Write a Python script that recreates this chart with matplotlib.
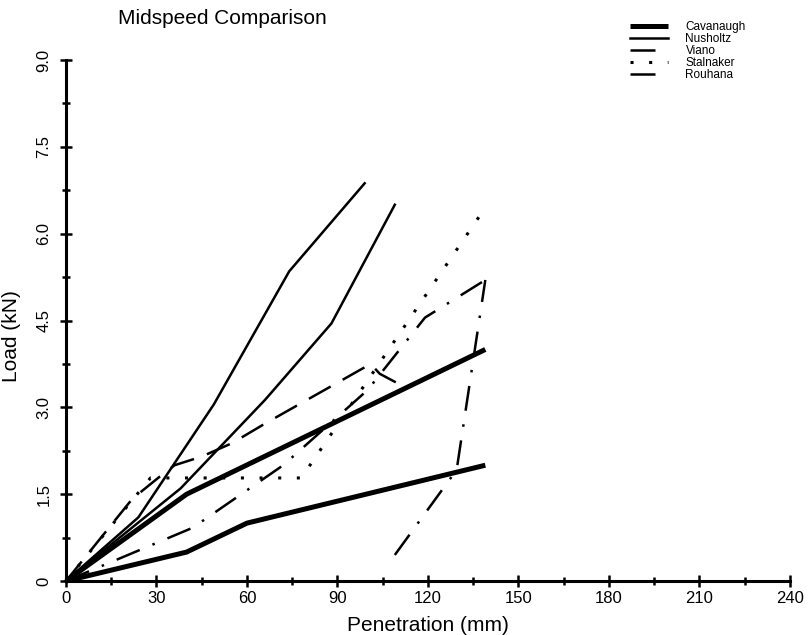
import matplotlib
matplotlib.use("Agg")
import matplotlib.pyplot as plt
from matplotlib.ticker import MultipleLocator

# Data (penetration mm, load kN)
cav_upper_x = [0, 40, 139]
cav_upper_y = [0, 1.5, 4.0]
cav_lower_x = [0, 40, 60, 139]
cav_lower_y = [0, 0.5, 1.0, 2.0]

nus_a_x = [0, 24, 49, 74, 99]
nus_a_y = [0, 1.1, 3.05, 5.35, 6.87]
nus_b_x = [0, 38, 66, 88, 109]
nus_b_y = [0, 1.6, 3.13, 4.45, 6.5]

viano_x = [0, 22, 31, 36, 45, 55, 66, 101, 104, 113]
viano_y = [0, 1.42, 1.8, 2.0, 2.15, 2.38, 2.72, 3.75, 3.58, 3.33]

stal_x = [0, 28, 78, 139]
stal_y = [0, 1.78, 1.78, 6.45]

rou_upper_x = [0, 42, 72, 100, 119, 139]
rou_upper_y = [0, 0.92, 2.0, 3.3, 4.55, 5.2]
rou_lower_x = [109, 129.5, 139]
rou_lower_y = [0.45, 1.92, 5.2]

plt.rcParams['font.family'] = ['Liberation Sans', 'DejaVu Sans']


def main():
    fig = plt.figure(figsize=(8.12, 6.35), dpi=100)
    ax = fig.add_axes([66 / 812, 54 / 635, 724 / 812, 521 / 635])

    # Cavanaugh - thick solid
    cav, = ax.plot(cav_upper_x, cav_upper_y, color='black', lw=3.6,
                   solid_capstyle='butt', clip_on=False, label='Cavanaugh')
    ax.plot(cav_lower_x, cav_lower_y, color='black', lw=3.6,
            solid_capstyle='butt', clip_on=False)

    # Nusholtz - thinner solid
    nus, = ax.plot(nus_a_x, nus_a_y, color='black', lw=1.8, clip_on=False,
                   label='Nusholtz')
    ax.plot(nus_b_x, nus_b_y, color='black', lw=1.8, clip_on=False)

    # Viano - long dashes
    via, = ax.plot(viano_x, viano_y, color='black', lw=1.8,
                   linestyle=(0, (10, 5.5)), clip_on=False, label='Viano')

    # Stalnaker - dotted
    sta, = ax.plot(stal_x, stal_y, color='black', lw=2.2,
                   linestyle=(0, (1, 5.1)), clip_on=False, label='Stalnaker')

    # Rouhana - dash dot
    rou, = ax.plot(rou_upper_x, rou_upper_y, color='black', lw=1.8,
                   linestyle=(0, (10, 5.5, 1, 5.5)), clip_on=False,
                   label='Rouhana')
    ax.plot(rou_lower_x, rou_lower_y, color='black', lw=1.8,
            linestyle=(0, (10, 5.5, 1, 5.5)), clip_on=False)

    ax.set_xlim(0, 240)
    ax.set_ylim(0, 9)
    ax.xaxis.set_major_locator(MultipleLocator(30))
    ax.xaxis.set_minor_locator(MultipleLocator(15))
    ax.yaxis.set_minor_locator(MultipleLocator(0.75))
    ax.set_yticks([0, 1.5, 3, 4.5, 6, 7.5, 9])
    ax.set_yticklabels(['0', '1.5', '3.0', '4.5', '6.0', '7.5', '9.0'])

    for side in ['top', 'right']:
        ax.spines[side].set_visible(False)
    for side in ['left', 'bottom']:
        ax.spines[side].set_linewidth(2.2)

    ax.tick_params(which='major', direction='inout', length=9, width=1.8,
                   labelsize=12)
    ax.tick_params(which='minor', direction='inout', length=6, width=1.8)
    ax.tick_params(axis='y', labelrotation=90, pad=6)
    ax.tick_params(axis='x', pad=3)
    for lbl in ax.get_yticklabels():
        lbl.set_va('center')

    ax.set_xlabel('Penetration (mm)', fontsize=15)
    ax.set_ylabel('Load (kN)', fontsize=15)
    ax.yaxis.set_label_coords(-0.062, 0.47)
    ax.xaxis.set_label_coords(0.5, -0.068)

    fig.text(118 / 812, 1 - 18 / 635, 'Midspeed Comparison', fontsize=15,
             ha='left', va='center')

    ax.legend(handles=[cav, nus, via, sta, rou], loc='upper left',
              bbox_to_anchor=(630 / 812, 1 - 21 / 635),
              bbox_transform=fig.transFigure, frameon=False, fontsize=8.5,
              handlelength=3.2, handletextpad=1.5, labelspacing=0.0,
              borderpad=0, borderaxespad=0)

    fig.savefig('out.png', dpi=100)


if __name__ == "__main__":
    main()
